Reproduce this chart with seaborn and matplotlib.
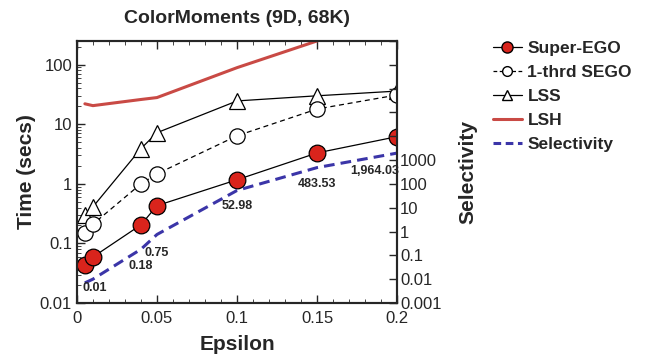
import numpy as np
import pandas as pd
import seaborn as sns
import matplotlib
matplotlib.use("Agg")
import matplotlib.pyplot as plt
from matplotlib.ticker import LogLocator, FixedLocator, FixedFormatter, MultipleLocator, NullFormatter
from matplotlib.lines import Line2D

# ---- data ----
eps = [0.005, 0.01, 0.04, 0.05, 0.1, 0.15, 0.2]
super_ego = [0.044, 0.059, 0.205, 0.43, 1.17, 3.3, 6.2]
one_third_sego = [0.15, 0.21, 1.0, 1.47, 6.4, 18, 31]
lss = [0.30, 0.41, 3.9, 7.2, 24.6, 30, 36]
lsh_eps = [0.005, 0.01, 0.04, 0.05, 0.1, 0.15]
lsh = [22, 20.5, 26, 28, 89, 250]
selectivity = [0.007, 0.01, 0.18, 0.75, 52.98, 483.53, 1964.03]
sel_labels = ["0.01", "0.18", "0.75", "52.98", "483.53", "1,964.03"]
sel_label_x = [0.01, 0.04, 0.05, 0.1, 0.15, 0.2]

sns.set_style("ticks")
plt.rcParams['font.family'] = ['Liberation Sans', 'DejaVu Sans']
plt.rcParams['xtick.direction'] = 'in'
plt.rcParams['ytick.direction'] = 'in'

fig = plt.figure(figsize=(6.46, 3.62), dpi=100)
ax = fig.add_axes([0.119, 0.163, 0.496, 0.724])

df = pd.DataFrame({"eps": eps, "se": super_ego, "ot": one_third_sego, "lss": lss})
dlsh = pd.DataFrame({"eps": lsh_eps, "lsh": lsh})
dsel = pd.DataFrame({"eps": eps, "sel": selectivity})

red = "#d9241c"
lsh_col = "#c94a45"
blue = "#3b35a8"

sns.lineplot(data=dlsh, x="eps", y="lsh", ax=ax, color=lsh_col, linewidth=2.2, zorder=2)
sns.lineplot(data=df, x="eps", y="lss", ax=ax, color="black", linewidth=0.9,
             marker="^", markersize=11, markerfacecolor="white", markeredgecolor="black",
             markeredgewidth=0.9, zorder=3)
sns.lineplot(data=df, x="eps", y="ot", ax=ax, color="black", linewidth=0.9, linestyle=(0, (4, 3)),
             marker="o", markersize=11, markerfacecolor="white", markeredgecolor="black",
             markeredgewidth=0.9, zorder=3)
sns.lineplot(data=df, x="eps", y="se", ax=ax, color="black", linewidth=0.9,
             marker="o", markersize=12, markerfacecolor=red, markeredgecolor="black",
             markeredgewidth=0.9, zorder=4)

ax.set_yscale("log")
ax.set_ylim(0.01, 250)
ax.set_xlim(0, 0.2)
ax.xaxis.set_major_locator(FixedLocator([0, 0.05, 0.1, 0.15, 0.2]))
ax.xaxis.set_major_formatter(FixedFormatter(["0", "0.05", "0.1", "0.15", "0.2"]))
ax.xaxis.set_minor_locator(MultipleLocator(0.01))
ax.yaxis.set_major_locator(FixedLocator([0.01, 0.1, 1, 10, 100]))
ax.yaxis.set_major_formatter(FixedFormatter(["0.01", "0.1", "1", "10", "100"]))
ax.yaxis.set_minor_locator(LogLocator(base=10, subs=np.arange(2, 10)))
ax.yaxis.set_minor_formatter(NullFormatter())
ax.tick_params(axis="both", which="major", labelsize=12, length=6, width=1, top=True)
ax.tick_params(axis="x", which="major", pad=6)
ax.tick_params(axis="both", which="minor", length=3, width=0.6, top=True)
ax.set_xlabel("Epsilon", fontsize=15, fontweight="bold", labelpad=6)
ax.set_ylabel("Time (secs)", fontsize=15, fontweight="bold", labelpad=3)
ax.set_title("ColorMoments (9D, 68K)", fontsize=14, fontweight="bold", pad=13)
for s in ax.spines.values():
    s.set_linewidth(1.5)

ax2 = ax.twinx()
sns.lineplot(data=dsel, x="eps", y="sel", ax=ax2, color=blue, linewidth=2.2, linestyle=(0, (3.5, 2)), zorder=2)
ax2.set_yscale("log")
ax2.set_ylim(0.001, 1e8)
ax2.yaxis.set_major_locator(FixedLocator([10.0 ** k for k in range(-3, 9)]))
ax2.yaxis.set_major_formatter(FixedFormatter(["0.001", "0.01", "0.1", "1", "10", "100", "1000"] + [""] * 5))
ax2.yaxis.set_minor_locator(LogLocator(base=10, subs=np.arange(2, 10)))
ax2.yaxis.set_minor_formatter(NullFormatter())
ax2.tick_params(axis="y", which="major", labelsize=12, length=6, width=1, pad=2)
ax2.tick_params(axis="y", which="minor", length=3, width=0.6)
ax2.set_ylabel("Selectivity", fontsize=15, fontweight="bold", labelpad=12)
for s in ax2.spines.values():
    s.set_linewidth(1.5)

# selectivity value labels (offsets in points)
offsets = [(1.5, -6.5), (0, -12), (0, -13), (0, -11.5), (0, -11.5), (-16.5, -13)]
for xv, lab, (dx, dy) in zip(sel_label_x, sel_labels, offsets):
    yv = selectivity[eps.index(xv)]
    ax2.annotate(lab, (xv, yv), xytext=(dx, dy), textcoords="offset points",
                 ha="center", va="center", fontsize=9, fontweight="bold")

handles = [
    Line2D([], [], color="black", lw=0.9, marker="o", markersize=8, markerfacecolor=red, markeredgecolor="black"),
    Line2D([], [], color="black", lw=0.9, ls=(0, (3, 2)), marker="o", markersize=7, markerfacecolor="white", markeredgecolor="black"),
    Line2D([], [], color="black", lw=0.9, marker="^", markersize=7, markerfacecolor="white", markeredgecolor="black"),
    Line2D([], [], color=lsh_col, lw=2.2),
    Line2D([], [], color=blue, lw=2.2, ls=(0, (2.5, 1.5))),
]
labels = ["Super-EGO", "1-thrd SEGO", "LSS", "LSH", "Selectivity"]
leg = fig.legend(handles, labels, loc="upper left", bbox_to_anchor=(0.752, 0.905), frameon=False,
                 prop={"weight": "bold", "size": 12.5}, handlelength=1.7, handletextpad=0.3,
                 labelspacing=0.5, borderaxespad=0)

fig.savefig("out.png", dpi=100)
